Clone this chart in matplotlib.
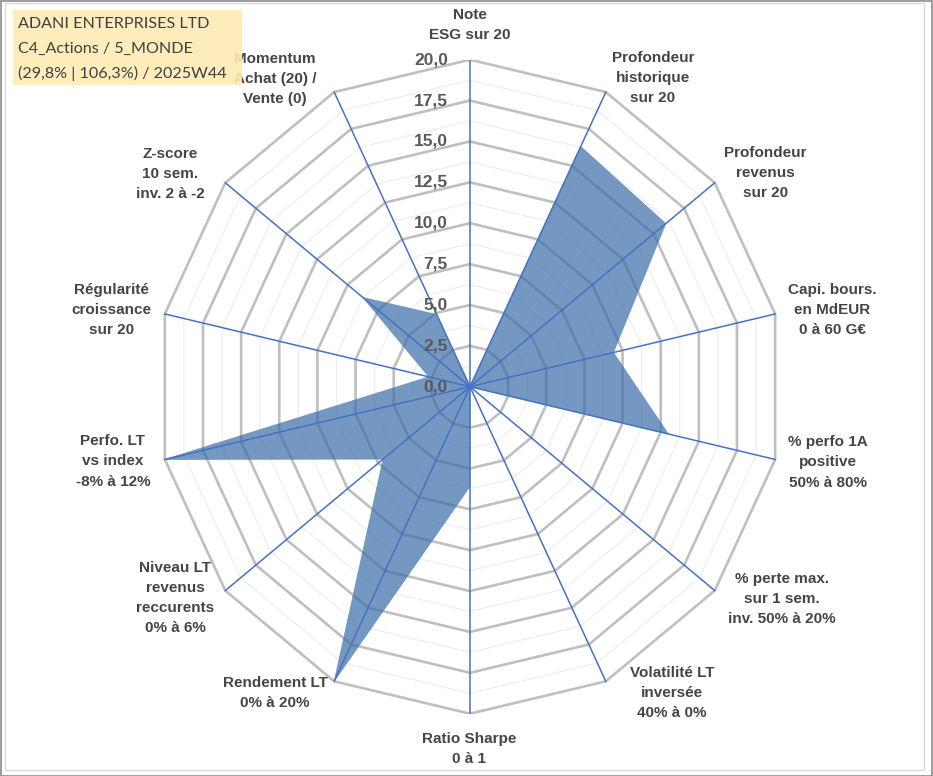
import numpy as np
import matplotlib
matplotlib.use('Agg')
import matplotlib.pyplot as plt
from matplotlib.patches import Rectangle

# ---------------- data ----------------
categories = [
    "Note\nESG sur 20",
    "Profondeur\nhistorique\nsur 20",
    "Profondeur\nrevenus\nsur 20",
    "Capi. bours.\nen MdEUR\n0 à 60 G€",
    "% perfo 1A\npositive\n50% à 80%",
    "% perte max.\nsur 1 sem.\ninv. 50% à 20%",
    "Volatilité LT\ninversée\n40% à 0%",
    "Ratio Sharpe\n0 à 1",
    "Rendement LT\n0% à 20%",
    "Niveau LT\nrevenus\nreccurents\n0% à 6%",
    "Perfo. LT\nvs index\n-8% à 12%",
    "Régularité\ncroissance\nsur 20",
    "Z-score\n10 sem.\ninv. 2 à -2",
    "Momentum\nAchat (20) /\nVente (0)",
]
values = [0, 16.3, 16.0, 9.4, 13.0, 0, 0, 6.1, 20, 7.1, 20, 2.7, 8.75, 4.9]
tick_values = [0, 2.5, 5, 7.5, 10, 12.5, 15, 17.5, 20]
tick_labels = ["0,0", "2,5", "5,0", "7,5", "10,0", "12,5", "15,0", "17,5", "20,0"]
minor_values = [1.25, 3.75, 6.25, 8.75, 11.25, 13.75, 16.25, 18.75]
title_lines = ["ADANI ENTERPRISES LTD", "C4_Actions / 5_MONDE", "(29,8% | 106,3%) / 2025W44"]
rmax = 20

# label offsets (pixels, x right / y down) relative to outer vertex
label_offsets = [(0, -35), (47, -14), (51, -10), (57, -4), (53, 3), (67, 8), (66, 12),
                 (-1, 35), (-59, 12), (-50, 7), (-52, 2), (-53, -4), (-55, -9), (-59, -13)]

W, H = 933, 776
fig = plt.figure(figsize=(W / 100, H / 100), dpi=100)
fig.patch.set_facecolor('white')

cx, cy = 470, 386.7
rx, ry = 313, 327
ax = fig.add_axes([(cx - rx) / W, (H - cy - ry) / H, 2 * rx / W, 2 * ry / H])
ax.set_xlim(-rmax, rmax)
ax.set_ylim(-rmax, rmax)
ax.axis('off')

n = len(categories)
theta = 2 * np.pi * np.arange(n) / n
sx, sy = np.sin(theta), np.cos(theta)

def ring(r):
    xs = np.append(r * sx, r * sx[0])
    ys = np.append(r * sy, r * sy[0])
    return xs, ys

for r in minor_values:
    xs, ys = ring(r)
    ax.plot(xs, ys, color='#ececec', lw=0.8, zorder=1)
for r in tick_values[1:]:
    xs, ys = ring(r)
    ax.plot(xs, ys, color='#bfbfbf', lw=1.9, zorder=2, solid_joinstyle='miter')

v = np.array(values)
ax.fill(v * sx, v * sy, facecolor='#3b6da8', alpha=0.7, edgecolor='#5a85bd',
        lw=0.6, zorder=3)

for k in range(n):
    ax.plot([0, rmax * sx[k]], [0, rmax * sy[k]], color='#4472c4', lw=1.1, zorder=4)

for tv, tl in zip(tick_values, tick_labels):
    ax.annotate(tl, xy=(0, tv), xytext=(-22, 0), textcoords='offset pixels',
                ha='right', va='center', fontsize=12.5, fontweight='bold',
                color='#595959', family='Liberation Sans', zorder=6)

for k, lab in enumerate(categories):
    dx, dy = label_offsets[k]
    ax.annotate(lab, xy=(rmax * sx[k], rmax * sy[k]), xytext=(dx, -dy),
                textcoords='offset pixels', ha='center', va='center', ma='center',
                fontsize=11, fontweight='bold', color='#454545',
                family='Liberation Sans', linespacing=1.55, zorder=6,
                annotation_clip=False)

# title box
fig.add_artist(Rectangle((13 / W, (H - 85) / H), 229 / W, 75 / H, transform=fig.transFigure,
                         facecolor='#feeab4', edgecolor='none', alpha=0.9, zorder=10))
for i, t in enumerate(title_lines):
    fig.text(18 / W, (H - (24 + 24.5 * i)) / H, t, ha='left', va='center', fontsize=11.6,
             color='#404040', family='Lato', zorder=11)

# frame
fig.add_artist(Rectangle((5 / W, (H - 770) / H), 919 / W, 767 / H, transform=fig.transFigure,
                         facecolor='none', edgecolor='#d9d9d9', lw=1.0, zorder=12))
fig.add_artist(Rectangle((0.5 / W, 0.5 / H), (W - 1.5) / W, (H - 1.5) / H, transform=fig.transFigure,
                         facecolor='none', edgecolor='#8c8c8c', lw=1.2, zorder=12))

fig.savefig('out.png', dpi=100)
